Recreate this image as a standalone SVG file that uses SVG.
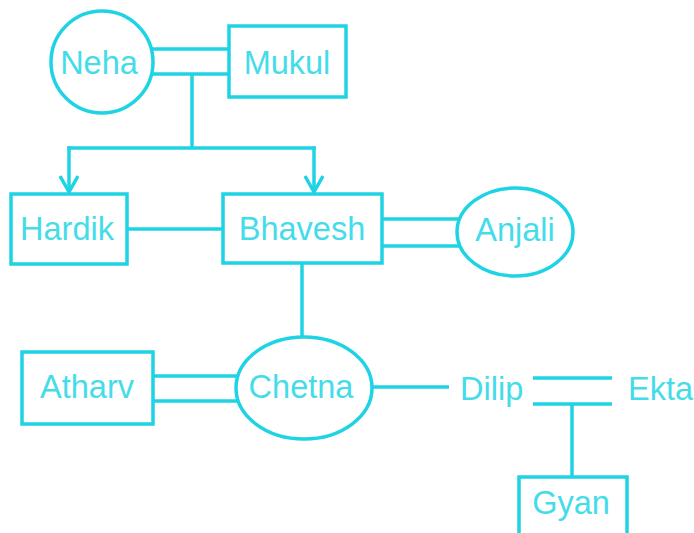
<svg xmlns="http://www.w3.org/2000/svg" width="694" height="533" viewBox="0 0 694 533">
<defs>
<style>
.ln{stroke:#1ed4e4;stroke-width:3.5;fill:none;stroke-linecap:butt}
.nd{stroke:#1ed4e4;stroke-width:3.5;fill:#ffffff}
.tx{font-family:"Liberation Sans",Arial,sans-serif;font-size:32.5px;fill:#45dcea}
.c{text-anchor:middle}
</style>
<marker id="arr" markerWidth="26" markerHeight="20" refX="17" refY="10" orient="auto" markerUnits="userSpaceOnUse">
<path d="M1,1 L17,10 L1,19" fill="none" stroke="#1ed4e4" stroke-width="3.5"/>
</marker>
</defs>
<rect width="694" height="533" fill="#ffffff"/>
<g id="connectors">
<line class="ln" x1="140" y1="49" x2="231" y2="49"/>
<line class="ln" x1="140" y1="74" x2="231" y2="74"/>
<line class="ln" x1="192" y1="74" x2="192" y2="148"/>
<line class="ln" x1="67.25" y1="148" x2="315.75" y2="148"/>
<line class="ln" x1="69" y1="146.25" x2="69" y2="192" marker-end="url(#arr)"/>
<line class="ln" x1="314" y1="146.25" x2="314" y2="192" marker-end="url(#arr)"/>
<line class="ln" x1="127" y1="229" x2="223" y2="229"/>
<line class="ln" x1="382" y1="219" x2="470" y2="219"/>
<line class="ln" x1="382" y1="246" x2="470" y2="246"/>
<line class="ln" x1="302" y1="263" x2="302" y2="345"/>
<line class="ln" x1="153" y1="376" x2="250" y2="376"/>
<line class="ln" x1="153" y1="401" x2="250" y2="401"/>
<line class="ln" x1="365" y1="387" x2="449" y2="387"/>
<line class="ln" x1="533" y1="378" x2="612" y2="378"/>
<line class="ln" x1="533" y1="404" x2="612" y2="404"/>
<line class="ln" x1="572" y1="404" x2="572" y2="477"/>
</g>
<g id="neha"><circle class="nd" cx="102" cy="62" r="51"/><text class="tx c" x="99" y="74">Neha</text></g>
<g id="mukul"><rect class="nd" x="229" y="26" width="117" height="71"/><text class="tx c" x="287" y="74">Mukul</text></g>
<g id="hardik"><rect class="nd" x="11" y="194" width="116" height="70"/><text class="tx c" x="67" y="240">Hardik</text></g>
<g id="bhavesh"><rect class="nd" x="223" y="194" width="159" height="69"/><text class="tx c" x="302" y="240">Bhavesh</text></g>
<g id="anjali"><ellipse class="nd" cx="515" cy="232" rx="58" ry="44"/><text class="tx c" x="515" y="241">Anjali</text></g>
<g id="atharv"><rect class="nd" x="22" y="352" width="131" height="72"/><text class="tx c" x="87" y="398">Atharv</text></g>
<g id="chetna"><ellipse class="nd" cx="304" cy="388" rx="68" ry="51"/><text class="tx c" x="301" y="398">Chetna</text></g>
<g id="dilip"><text class="tx" x="460" y="400">Dilip</text></g>
<g id="ekta"><text class="tx" x="628" y="400">Ekta</text></g>
<g id="gyan"><rect class="nd" x="519" y="477" width="108" height="70"/><text class="tx c" x="571" y="514">Gyan</text></g>
</svg>
